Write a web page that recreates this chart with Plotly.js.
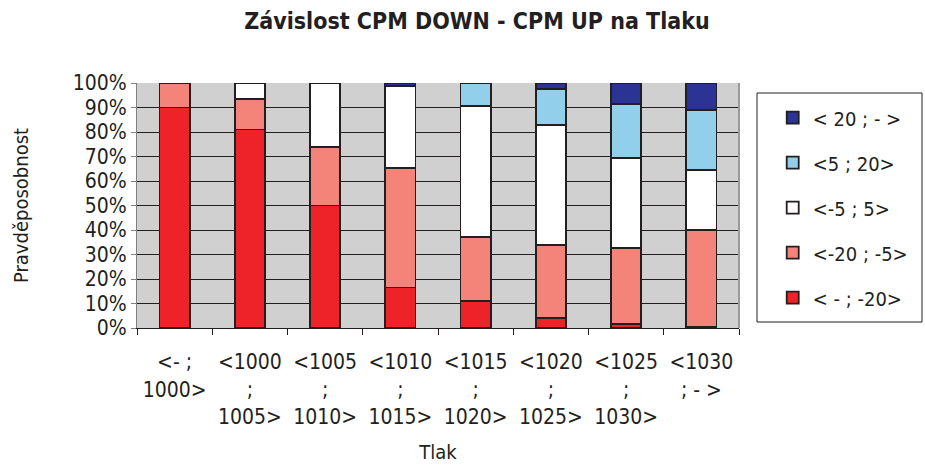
<!DOCTYPE html>
<html>
<head>
<meta charset="utf-8">
<script src="https://cdn.plot.ly/plotly-3.0.1.min.js"></script>
<style>html,body{margin:0;padding:0;background:#fff;}#chart{width:925px;height:466px;}</style>
</head>
<body>
<div id="chart"></div>
<script>
const categories = ['<- ;<br>1000>', '<1000<br>;<br>1005>', '<1005<br>;<br>1010>', '<1010<br>;<br>1015>',
                    '<1015<br>;<br>1020>', '<1020<br>;<br>1025>', '<1025<br>;<br>1030>', '<1030<br>; - >'];
const seriesNames = ['< - ; -20>', '<-20 ; -5>', '<-5 ; 5>', '<5 ; 20>', '< 20 ; - >'];
const redVals = [90, 81, 50, 16.5, 11, 4.2, 1.6, 0.5];
const salmonVals = [10, 12.5, 24, 48.7, 26.3, 29.7, 31.1, 39.5];
const whiteVals = [0, 6.5, 26, 33.7, 53.4, 49, 36.6, 24.5];
const lightBlueVals = [0, 0, 0, 0, 9.3, 14.7, 22.1, 24.5];
const darkBlueVals = [0, 0, 0, 1.1, 0, 2.4, 8.6, 11];
const seriesValues = [redVals, salmonVals, whiteVals, lightBlueVals, darkBlueVals];
const colors = ['#EE2229', '#F4837A', '#FFFFFF', '#92CFEA', '#2B3494'];

const FONT = 'DejaVu Sans Condensed, DejaVu Sans, sans-serif';

const traces = seriesValues.map((vals, i) => ({
  type: 'bar',
  name: seriesNames[i],
  x: categories,
  y: vals,
  width: 0.4,
  legendgroup: 'g' + i,
  legendrank: 100 - i * 10,
  marker: {color: colors[i], line: {color: '#231F20', width: 1.8}},
  hoverinfo: 'skip'
}));

const layout = {
  width: 925, height: 466,
  margin: {l: 137, r: 186, t: 83, b: 138},
  paper_bgcolor: '#FFFFFF',
  plot_bgcolor: '#D0D0D0',
  barmode: 'stack',
  font: {family: FONT, size: 20, color: '#231F20'},
  title: {text: '<b>Závislost CPM DOWN - CPM UP na Tlaku</b>', font: {family: FONT, size: 23, color: '#231F20'},
          x: 477 / 925, xref: 'container', xanchor: 'center', y: 0.955, yanchor: 'middle'},
  xaxis: {
    type: 'category',
    showgrid: false,
    showline: true, linecolor: '#231F20', linewidth: 1,
    ticks: 'outside', tickson: 'boundaries', ticklen: 6, tickcolor: '#231F20',
    ticklabelstandoff: 15,
    tickfont: {family: FONT, size: 21, color: '#231F20'},
    title: {text: 'Tlak', font: {family: FONT, size: 20, color: '#231F20'}, standoff: 17},
    automargin: false
  },
  yaxis: {
    range: [0, 100],
    dtick: 10,
    ticksuffix: '%',
    showgrid: true, gridcolor: '#231F20', gridwidth: 1,
    showline: true, linecolor: '#808080', linewidth: 1,
    ticks: 'outside', ticklen: 5, tickcolor: '#808080',
    tickfont: {family: FONT, size: 21, color: '#231F20'},
    title: {text: 'Pravděposobnost', font: {family: FONT, size: 20, color: '#231F20'}, standoff: 38},
    zeroline: false,
    automargin: false
  },
  showlegend: true,
  legend: {
    x: 1.056, xanchor: 'left', y: 0.938, yanchor: 'top',
    traceorder: 'grouped',
    tracegroupgap: 16,
    bgcolor: 'rgba(0,0,0,0)',
    borderwidth: 0,
    font: {family: FONT, size: 20, color: '#231F20'}
  },
  shapes: [
    {type: 'line', xref: 'paper', yref: 'paper', x0: 1, x1: 1, y0: 0, y1: 1, line: {color: '#9A9A9A', width: 2}},
    {type: 'rect', xref: 'paper', yref: 'paper', x0: (757 - 137) / 602, x1: (922 - 137) / 602,
     y0: (328 - 322) / 245, y1: (328 - 93) / 245, line: {color: '#231F20', width: 1}, fillcolor: 'rgba(0,0,0,0)'}
  ]
};

Plotly.newPlot('chart', traces, layout, {staticPlot: true, displayModeBar: false});
</script>
</body>
</html>
